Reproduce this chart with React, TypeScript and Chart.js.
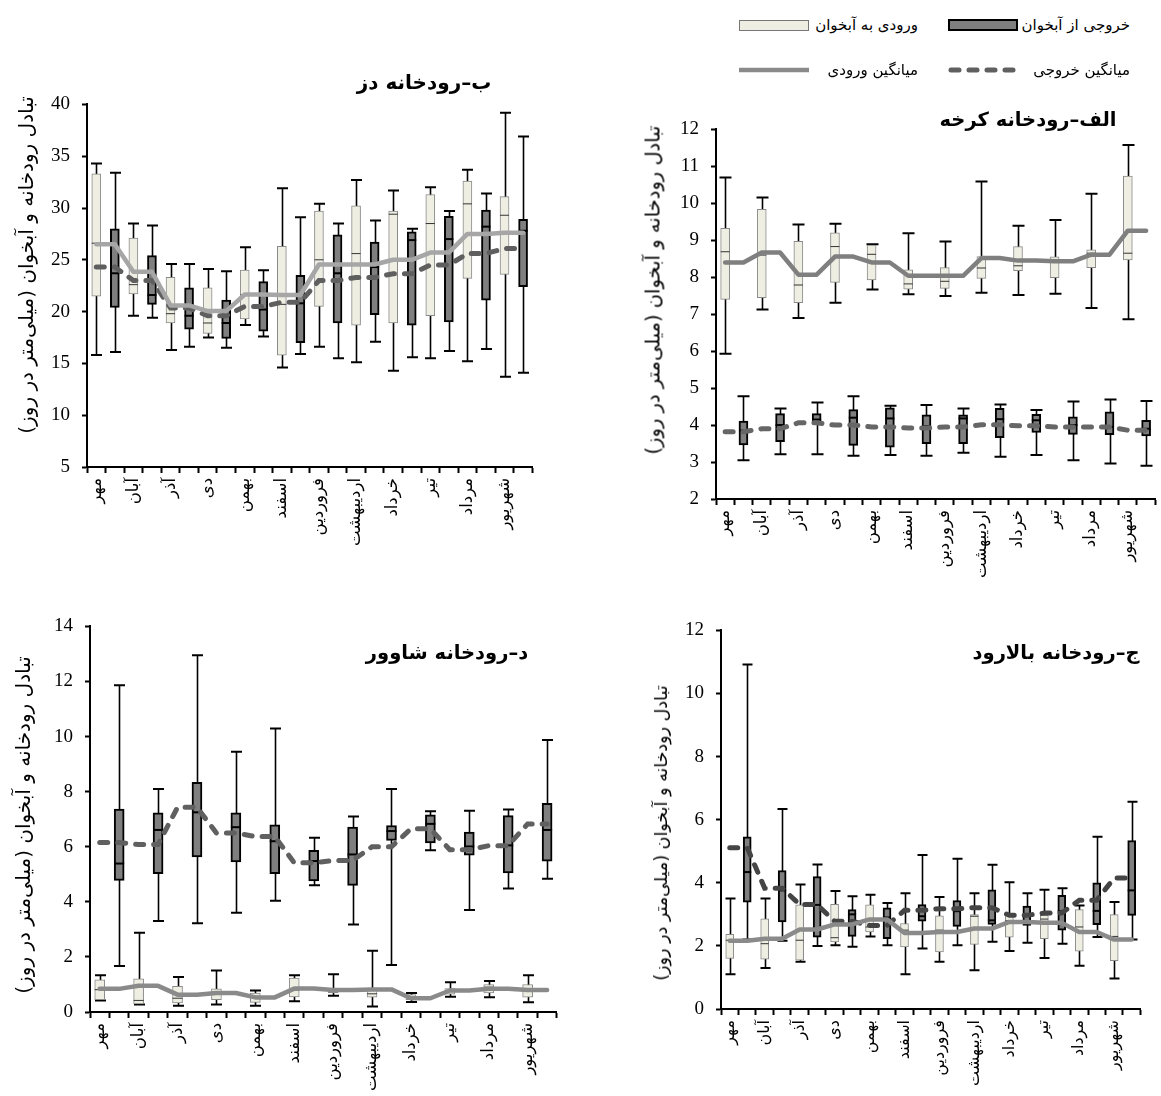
import React, { useEffect, useRef } from 'react';
import { Chart, registerables } from 'chart.js';
Chart.register(...registerables);

const months = ['مهر', 'آبان', 'آذر', 'دی', 'بهمن', 'اسفند', 'فروردین', 'اردیبهشت', 'خرداد', 'تیر', 'مرداد', 'شهریور'];

// each row: [min, q1, median, q3, max]
const dezInflow = [
  [15.8, 21.5, 26.6, 33.3, 34.3], [19.6, 21.7, 22.6, 27.1, 28.5], [16.3, 18.9, 19.8, 23.3, 24.6],
  [17.5, 17.9, 18.9, 22.3, 24.1], [18.7, 19.3, 21.6, 24.0, 26.2], [14.6, 15.8, 20.7, 26.3, 31.9],
  [16.6, 20.5, 25.0, 29.7, 30.4], [15.1, 18.7, 25.6, 30.2, 32.7], [14.3, 18.9, 29.4, 29.7, 31.7],
  [15.5, 19.6, 28.5, 31.3, 32.0], [15.2, 23.2, 30.4, 32.6, 33.7], [13.7, 23.6, 29.3, 31.1, 39.2],
];
const dezOutflow = [
  [16.1, 20.4, 23.7, 28.0, 33.4], [19.4, 20.7, 21.6, 25.4, 28.3], [16.6, 18.3, 19.6, 22.3, 24.6],
  [16.5, 17.4, 18.9, 21.1, 23.9], [17.6, 18.1, 20.2, 22.9, 24.0], [15.9, 17.0, 20.8, 23.5, 29.1],
  [15.5, 18.9, 23.7, 27.4, 28.5], [17.1, 19.7, 24.3, 26.7, 28.8], [15.6, 18.7, 26.9, 27.7, 28.0],
  [16.2, 19.0, 27.0, 29.2, 29.7], [16.4, 21.1, 28.2, 29.8, 31.4], [14.1, 22.4, 27.8, 28.9, 36.9],
];
const dezInflowMean = [26.5, 23.85, 20.6, 20.05, 21.65, 21.6, 24.55, 24.55, 25.0, 25.7, 27.5, 27.6];
const dezOutflowMean = [24.3, 23.0, 20.35, 19.6, 20.5, 20.9, 23.0, 23.3, 23.65, 24.5, 25.6, 26.1];

const karkhehInflow = [
  [5.93, 7.4, 8.69, 9.32, 10.7], [7.13, 7.45, 8.6, 9.84, 10.16], [6.9, 7.31, 7.79, 8.97, 9.43],
  [7.31, 7.86, 8.83, 9.2, 9.45], [7.67, 7.93, 8.62, 8.87, 8.89], [7.54, 7.68, 7.82, 8.2, 9.19],
  [7.49, 7.7, 7.89, 8.26, 8.97], [7.58, 7.97, 8.25, 8.56, 10.59], [7.52, 8.18, 8.31, 8.83, 9.39],
  [7.55, 7.99, 8.45, 8.55, 9.55], [7.17, 8.26, 8.65, 8.74, 10.26], [6.86, 8.47, 8.65, 10.74, 11.58],
];
const karkhehOutflow = [
  [3.05, 3.46, 3.85, 4.11, 4.78], [3.21, 3.55, 4.0, 4.31, 4.45], [3.21, 4.05, 4.15, 4.31, 4.61],
  [3.17, 3.45, 4.2, 4.42, 4.78], [3.19, 3.4, 4.18, 4.47, 4.52], [3.17, 3.5, 3.97, 4.28, 4.54],
  [3.25, 3.5, 4.18, 4.28, 4.45], [3.14, 3.66, 4.16, 4.45, 4.56], [3.19, 3.8, 4.13, 4.29, 4.41],
  [3.05, 3.75, 4.0, 4.22, 4.64], [2.96, 3.74, 3.95, 4.36, 4.69], [2.9, 3.71, 3.9, 4.13, 4.65],
];
const karkhehInflowMean = [8.4, 8.67, 8.07, 8.56, 8.4, 8.04, 8.04, 8.52, 8.45, 8.43, 8.61, 9.26];
const karkhehOutflowMean = [3.82, 3.9, 4.06, 4.0, 3.95, 3.92, 3.95, 4.01, 3.98, 3.95, 3.95, 3.86];

const shavoorInflow = [
  [0.42, 0.45, 0.81, 1.17, 1.33], [0.27, 0.29, 0.42, 1.2, 2.88], [0.23, 0.33, 0.5, 0.93, 1.27],
  [0.27, 0.45, 0.7, 0.84, 1.51], [0.23, 0.35, 0.57, 0.69, 0.78], [0.39, 0.55, 0.8, 1.23, 1.33],
  [0.59, 0.7, 0.78, 0.85, 1.37], [0.2, 0.54, 0.66, 0.81, 2.22], [0.36, 0.45, 0.55, 0.63, 0.69],
  [0.55, 0.65, 0.75, 0.85, 1.08], [0.54, 0.69, 0.9, 1.0, 1.13], [0.35, 0.54, 0.81, 1.0, 1.33],
];
const shavoorOutflow = [
  [1.67, 4.78, 5.39, 7.37, 11.86], [3.3, 5.02, 6.61, 7.23, 8.1], [3.22, 5.63, 7.25, 8.34, 12.95],
  [3.6, 5.45, 6.71, 7.23, 9.45], [4.04, 5.02, 6.2, 6.8, 10.29], [4.6, 4.76, 5.48, 5.87, 6.33],
  [3.18, 4.6, 5.72, 6.71, 7.1], [1.71, 6.23, 6.57, 6.77, 8.1], [5.87, 6.14, 6.83, 7.16, 7.29],
  [3.7, 5.69, 6.01, 6.53, 7.31], [4.48, 5.05, 6.05, 7.13, 7.35], [4.84, 5.48, 6.61, 7.58, 9.88],
];
const shavoorInflowMean = [0.84, 0.95, 0.63, 0.69, 0.53, 0.85, 0.8, 0.82, 0.5, 0.78, 0.84, 0.8];
const shavoorOutflowMean = [6.15, 6.08, 7.43, 6.5, 6.37, 5.42, 5.5, 6.0, 6.65, 5.89, 6.04, 6.83];

const balaroodInflow = [
  [1.1, 1.6, 2.18, 2.37, 3.5], [1.3, 1.58, 2.07, 2.86, 3.5], [1.5, 1.55, 2.18, 3.3, 3.95],
  [2.02, 2.13, 2.26, 3.32, 3.74], [2.3, 2.44, 2.6, 3.3, 3.62], [1.1, 1.97, 2.5, 2.71, 3.67],
  [1.5, 1.81, 2.5, 2.95, 3.55], [1.23, 2.05, 2.94, 2.99, 3.67], [1.84, 2.28, 2.8, 3.02, 4.02],
  [1.62, 2.23, 2.85, 2.97, 3.78], [1.37, 1.83, 2.6, 3.15, 3.28], [0.97, 1.53, 2.3, 2.99, 3.39],
];
const balaroodOutflow = [
  [2.2, 3.39, 4.34, 5.46, 10.92], [2.16, 2.76, 3.76, 4.39, 6.34], [2.0, 2.28, 3.3, 4.2, 4.58],
  [1.97, 2.3, 3.0, 3.15, 3.57], [2.02, 2.23, 2.9, 3.21, 3.36], [1.92, 2.78, 2.94, 3.31, 4.88],
  [2.02, 2.62, 3.1, 3.44, 4.76], [2.13, 2.68, 2.81, 3.78, 4.57], [2.1, 2.65, 2.95, 3.26, 3.67],
  [2.07, 2.5, 3.1, 3.6, 3.83], [2.28, 2.67, 3.11, 4.0, 5.46], [2.2, 2.97, 3.76, 5.34, 6.57],
];
const balaroodInflowMean = [2.16, 2.23, 2.52, 2.68, 2.84, 2.41, 2.44, 2.55, 2.76, 2.73, 2.44, 2.2];
const balaroodOutflowMean = [5.11, 3.83, 3.31, 2.78, 2.65, 3.13, 3.18, 3.21, 2.97, 3.04, 3.45, 4.15];

const inflowLabel = 'ورودی به آبخوان';
const outflowLabel = 'خروجی از آبخوان';
const inflowMeanLabel = 'میانگین ورودی';
const outflowMeanLabel = 'میانگین خروجی';
const yTitle = 'تبادل رودخانه و آبخوان (میلی\u200cمتر در روز)';

const SERIF = "'Liberation Serif', 'DejaVu Sans', serif";
const FA = "'DejaVu Sans', 'Liberation Serif', sans-serif";

const LIGHT_FILL = '#eeeee3';
const LIGHT_BORDER = '#8a8a8a';
const DARK_FILL = '#7f7f7f';

const boxPlugin = {
  id: 'boxWhiskers',
  beforeDatasetDraw(chart: any, args: any) {
    const ds: any = chart.data.datasets[args.index];
    if (!ds.stats) return;
    const meta = args.meta;
    const y = chart.scales.y;
    const ctx = chart.ctx;
    ctx.save();
    ctx.strokeStyle = '#000';
    ds.stats.forEach((s: number[], i: number) => {
      const el = meta.data[i];
      if (!s || !el) return;
      const x = Math.round(el.x) + 0.5;
      const yMin = y.getPixelForValue(s[0]);
      const yMax = y.getPixelForValue(s[4]);
      ctx.lineWidth = 1.6;
      ctx.beginPath();
      ctx.moveTo(x, yMin);
      ctx.lineTo(x, yMax);
      ctx.stroke();
      const cw = ds.capWidth / 2;
      ctx.lineWidth = 2;
      ctx.beginPath();
      ctx.moveTo(x - cw, yMin);
      ctx.lineTo(x + cw, yMin);
      ctx.moveTo(x - cw, yMax);
      ctx.lineTo(x + cw, yMax);
      ctx.stroke();
    });
    ctx.restore();
  },
  afterDatasetDraw(chart: any, args: any) {
    const ds: any = chart.data.datasets[args.index];
    if (!ds.stats) return;
    const meta = args.meta;
    const y = chart.scales.y;
    const ctx = chart.ctx;
    ctx.save();
    ds.stats.forEach((s: number[], i: number) => {
      const el = meta.data[i];
      if (!s || !el) return;
      const dark = i % 2 === 1;
      const ym = y.getPixelForValue(s[2]);
      const half = el.width / 2;
      ctx.strokeStyle = dark ? '#000' : '#333';
      ctx.lineWidth = dark ? 2 : 1;
      ctx.beginPath();
      ctx.moveTo(el.x - half, ym);
      ctx.lineTo(el.x + half, ym);
      ctx.stroke();
    });
    ctx.restore();
  },
};

type Panel = {
  left: number; top: number; width: number; height: number;
  yw: number; xh: number; pt: number; pr: number;
  min: number; max: number; step: number;
  inflow: number[][]; outflow: number[][]; inMean: number[]; outMean: number[];
  barW: number; capW: number; solid: string; dashed: string; labelSize: number;
};

const panels: Panel[] = [
  { left: 0, top: 81, width: 548, height: 516, yw: 87, xh: 130, pt: 10, pr: 6, min: 5, max: 40, step: 5,
    inflow: dezInflow, outflow: dezOutflow, inMean: dezInflowMean, outMean: dezOutflowMean,
    barW: 9, capW: 11, solid: '#a6a6a6', dashed: '#5f5f5f', labelSize: 16.5 },
  { left: 630, top: 106, width: 541, height: 503, yw: 86, xh: 110, pt: 10, pr: 4, min: 2, max: 12, step: 1,
    inflow: karkhehInflow, outflow: karkhehOutflow, inMean: karkhehInflowMean, outMean: karkhehOutflowMean,
    barW: 9, capW: 12, solid: '#7f7f7f', dashed: '#666666', labelSize: 16.5 },
  { left: 0, top: 603, width: 572, height: 493, yw: 90, xh: 84, pt: 10, pr: 5, min: 0, max: 14, step: 2,
    inflow: shavoorInflow, outflow: shavoorOutflow, inMean: shavoorInflowMean, outMean: shavoorOutflowMean,
    barW: 10, capW: 11, solid: '#8a8a8a', dashed: '#606060', labelSize: 16.5 },
  { left: 630, top: 607, width: 526, height: 489, yw: 91, xh: 87, pt: 10, pr: 5, min: 0, max: 12, step: 2,
    inflow: balaroodInflow, outflow: balaroodOutflow, inMean: balaroodInflowMean, outMean: balaroodOutflowMean,
    barW: 8, capW: 10, solid: '#8a8a8a', dashed: '#454545', labelSize: 16 },
];

function BoxChart({ p }: { p: Panel }) {
  const ref = useRef<HTMLCanvasElement>(null);
  useEffect(() => {
    if (!ref.current) return;
    const labels: string[] = [];
    const boxes: number[][] = [];
    const stats: number[][] = [];
    const fills: string[] = [];
    const borders: string[] = [];
    const bws: number[] = [];
    const inLine: number[] = [];
    const outLine: number[] = [];
    months.forEach((m, i) => {
      labels.push(m, '');
      boxes.push([p.inflow[i][1], p.inflow[i][3]], [p.outflow[i][1], p.outflow[i][3]]);
      stats.push(p.inflow[i], p.outflow[i]);
      fills.push(LIGHT_FILL, DARK_FILL);
      borders.push(LIGHT_BORDER, '#000');
      bws.push(1, 2);
      inLine.push(p.inMean[i], p.inMean[i]);
      outLine.push(p.outMean[i], p.outMean[i]);
    });
    const chart = new Chart(ref.current, {
      type: 'bar',
      data: {
        labels,
        datasets: [
          { type: 'line', label: inflowMeanLabel, data: inLine, borderColor: p.solid, borderWidth: 4.5,
            pointRadius: 0, tension: 0, fill: false, borderJoinStyle: 'round', borderCapStyle: 'round' } as any,
          { type: 'line', label: outflowMeanLabel, data: outLine, borderColor: p.dashed, borderWidth: 5,
            borderDash: [8, 10], borderCapStyle: 'round', pointRadius: 0, tension: 0, fill: false } as any,
          { type: 'bar', label: inflowLabel + ' / ' + outflowLabel, data: boxes as any, stats,
            capWidth: p.capW, backgroundColor: fills, borderColor: borders, borderWidth: bws,
            borderSkipped: false, barThickness: p.barW, grouped: false } as any,
        ],
      },
      options: {
        animation: false,
        responsive: false,
        maintainAspectRatio: false,
        layout: { padding: { top: p.pt, right: p.pr, left: 0, bottom: 0 } },
        plugins: { legend: { display: false }, tooltip: { enabled: false }, title: { display: false } },
        scales: {
          x: {
            type: 'category',
            offset: true,
            grid: { offset: true, drawOnChartArea: false, drawTicks: true, tickLength: 6, tickWidth: 2, tickColor: '#000' },
            border: { display: true, color: '#000', width: 2 },
            ticks: { autoSkip: false, maxRotation: 90, minRotation: 90, color: '#000',
              font: { family: FA, size: p.labelSize }, padding: 5 },
            afterFit: (s: any) => { s.height = p.xh; },
          },
          y: {
            min: p.min, max: p.max,
            ticks: { stepSize: p.step, color: '#000', font: { family: SERIF, size: 19 }, padding: 12 },
            grid: { drawOnChartArea: false, drawTicks: true, tickLength: 5, tickWidth: 2, tickColor: '#000' },
            border: { display: true, color: '#000', width: 2 },
            afterFit: (s: any) => { s.width = p.yw; },
          },
        },
      } as any,
      plugins: [boxPlugin],
    });
    return () => chart.destroy();
  }, [p]);
  return (
    <canvas ref={ref} width={p.width} height={p.height}
      style={{ position: 'absolute', left: p.left, top: p.top, width: p.width, height: p.height }} />
  );
}

const titles = [
  { text: 'ب–رودخانه دز', x: 424, y: 82, size: 20 },
  { text: 'الف–رودخانه کرخه', x: 1028, y: 119, size: 19.5 },
  { text: 'د–رودخانه شاوور', x: 447, y: 652, size: 19.5 },
  { text: 'ج–رودخانه بالارود', x: 1056, y: 652, size: 19.5 },
];
const yTitles = [
  { x: 26, y: 265, size: 20 },
  { x: 653, y: 290, size: 19.5 },
  { x: 23, y: 825, size: 20 },
  { x: 661, y: 833, size: 17.5 },
];

const abs = (o: any) => ({ position: 'absolute' as const, ...o });

export default function App() {
  return (
    <div style={{ position: 'fixed', left: 0, top: 0, width: 1161, height: 1096, overflow: 'hidden', background: '#fff' }}>
      {panels.map((p, i) => <BoxChart key={i} p={p} />)}
      {titles.map((t, i) => (
        <div key={'t' + i} dir="rtl" style={abs({ left: t.x, top: t.y, transform: 'translate(-50%, -50%)',
          whiteSpace: 'nowrap', fontFamily: FA, fontWeight: 'bold', fontSize: t.size, color: '#000' })}>{t.text}</div>
      ))}
      {yTitles.map((t, i) => (
        <div key={'y' + i} dir="rtl" style={abs({ left: t.x, top: t.y, transform: 'translate(-50%, -50%) rotate(-90deg)',
          whiteSpace: 'nowrap', fontFamily: FA, fontSize: t.size, color: '#000' })}>{yTitle}</div>
      ))}
      {/* legend */}
      <div style={abs({ left: 739, top: 20, width: 68, height: 9, background: LIGHT_FILL, border: '1px solid #777' })} />
      <div dir="rtl" style={abs({ right: 1161 - 918, top: 25, transform: 'translateY(-50%)', whiteSpace: 'nowrap', fontFamily: FA, fontSize: 15 })}>{inflowLabel}</div>
      <div style={abs({ left: 948, top: 19, width: 66, height: 8, background: DARK_FILL, border: '2px solid #000' })} />
      <div dir="rtl" style={abs({ right: 1161 - 1130, top: 25, transform: 'translateY(-50%)', whiteSpace: 'nowrap', fontFamily: FA, fontSize: 15 })}>{outflowLabel}</div>
      <svg style={abs({ left: 736, top: 62, width: 78, height: 16 })} width={78} height={16}>
        <line x1={3} y1={8} x2={73} y2={8} stroke="#8a8a8a" strokeWidth={4.5} />
      </svg>
      <div dir="rtl" style={abs({ right: 1161 - 918, top: 70, transform: 'translateY(-50%)', whiteSpace: 'nowrap', fontFamily: FA, fontSize: 15 })}>{inflowMeanLabel}</div>
      <svg style={abs({ left: 945, top: 62, width: 78, height: 16 })} width={78} height={16}>
        <line x1={6} y1={8} x2={72} y2={8} stroke="#606060" strokeWidth={5} strokeDasharray="8 10" strokeLinecap="round" />
      </svg>
      <div dir="rtl" style={abs({ right: 1161 - 1130, top: 70, transform: 'translateY(-50%)', whiteSpace: 'nowrap', fontFamily: FA, fontSize: 15 })}>{outflowMeanLabel}</div>
    </div>
  );
}
